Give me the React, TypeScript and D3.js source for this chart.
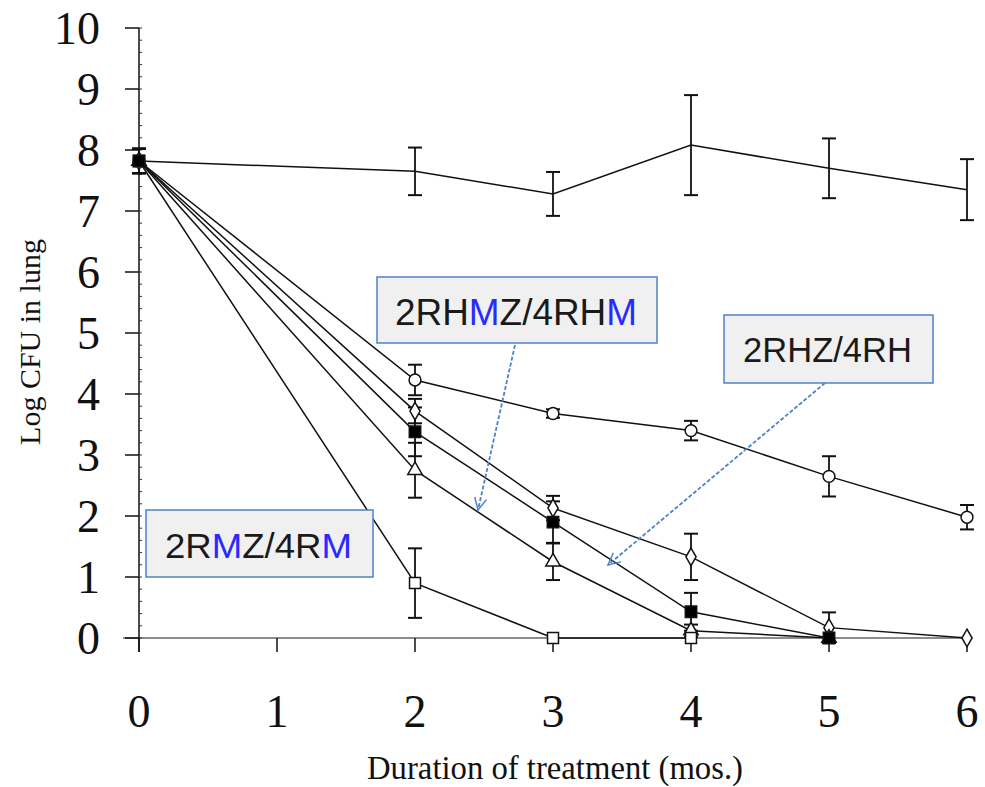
import React from "react";
import * as d3 from "d3";

const months = [0, 1, 2, 3, 4, 5, 6];
const yTicks = [0, 1, 2, 3, 4, 5, 6, 7, 8, 9, 10];

const controlX = [0, 2, 3, 4, 5, 6];
const controlMean = [7.82, 7.65, 7.28, 8.08, 7.7, 7.35];
const controlSd = [0.2, 0.39, 0.36, 0.82, 0.49, 0.5];

const circX = [0, 2, 3, 4, 5, 6];
const circMean = [7.82, 4.23, 3.68, 3.4, 2.65, 1.98];
const circSd = [0.2, 0.25, 0.07, 0.16, 0.33, 0.2];

const diamX = [0, 2, 3, 4, 5, 6];
const diamMean = [7.82, 3.72, 2.13, 1.33, 0.17, 0];
const diamSd = [0.2, 0.2, 0.2, 0.38, 0.25, 0];

const fsqX = [0, 2, 3, 4, 5];
const fsqMean = [7.82, 3.38, 1.9, 0.43, 0];
const fsqSd = [0.2, 0.4, 0.34, 0.31, 0];

const triX = [0, 2, 3, 4, 5];
const triMean = [7.82, 2.75, 1.25, 0.12, 0];
const triSd = [0.2, 0.45, 0.3, 0.1, 0];

const osqX = [0, 2, 3, 4];
const osqMean = [7.82, 0.9, 0, 0];
const osqSd = [0.2, 0.57, 0, 0];

type Series = { x: number[]; m: number[]; s: number[]; sym: any; fill: string; size: number; draw: boolean };

const series: Series[] = [
  { x: controlX, m: controlMean, s: controlSd, sym: d3.symbolSquare, fill: "none", size: 0, draw: false },
  { x: circX, m: circMean, s: circSd, sym: d3.symbolCircle, fill: "white", size: 110, draw: true },
  { x: diamX, m: diamMean, s: diamSd, sym: d3.symbolDiamond, fill: "white", size: 90, draw: true },
  { x: triX, m: triMean, s: triSd, sym: d3.symbolTriangle, fill: "white", size: 90, draw: true },
  { x: osqX, m: osqMean, s: osqSd, sym: d3.symbolSquare, fill: "white", size: 120, draw: true },
  { x: fsqX, m: fsqMean, s: fsqSd, sym: d3.symbolSquare, fill: "black", size: 130, draw: true },
];

export default function App() {
  const xS = d3.scaleLinear().domain([0, 6]).range([139, 967]);
  const yS = d3.scaleLinear().domain([0, 10]).range([638, 28]);
  const line = d3.line<[number, number]>().x((d) => xS(d[0])).y((d) => yS(d[1]));
  const minor = d3.range(0, 10.001, 0.2);
  const blue = "#4f81c9";
  const mBlue = "#2a2aff";
  const txtCol = "#1a1a1a";
  const sans = "'Liberation Sans', Arial, sans-serif";
  const serif = "'Liberation Serif', 'Times New Roman', serif";

  return (
    <svg width={985} height={787} style={{ position: "absolute", left: 0, top: 0, background: "white" }}>
      <defs>
        <marker id="arr" markerUnits="userSpaceOnUse" markerWidth={16} markerHeight={16} refX={14} refY={8} orient="auto">
          <path d="M2,2 L14,8 L2,14" fill="none" stroke={blue} strokeWidth={1.5} />
        </marker>
      </defs>
      {/* x axis */}
      <line x1={123} x2={967} y1={yS(0)} y2={yS(0)} stroke="#666" strokeWidth={1.5} />
      {months.map((m) => (
        <g key={"xt" + m}>
          <line x1={xS(m)} x2={xS(m)} y1={yS(0)} y2={yS(0) + 14} stroke="#111" strokeWidth={1.5} />
          <text x={xS(m)} y={727} textAnchor="middle" fontFamily={serif} fontSize={46} fill="#111">
            {m}
          </text>
        </g>
      ))}
      {/* y axis */}
      <line x1={xS(0)} x2={xS(0)} y1={yS(10)} y2={yS(0) + 14} stroke="#111" strokeWidth={1.5} />
      {minor.map((v, i) => (
        <line key={"mn" + i} x1={xS(0)} x2={xS(0) + 3} y1={yS(v)} y2={yS(v)} stroke="#333" strokeWidth={1} />
      ))}
      {yTicks.map((t) => (
        <g key={"yt" + t}>
          <line x1={125} x2={xS(0)} y1={yS(t)} y2={yS(t)} stroke="#111" strokeWidth={1.5} />
          <text x={100} y={yS(t) + 16} textAnchor="end" fontFamily={serif} fontSize={46} fill="#111">
            {t}
          </text>
        </g>
      ))}
      <text
        transform={`translate(40,342) rotate(-90)`}
        textAnchor="middle"
        fontFamily={serif}
        fontSize={30}
        fill="#111"
      >
        Log CFU in lung
      </text>
      <text x={555} y={779} textAnchor="middle" fontFamily={serif} fontSize={34} textLength={376} lengthAdjust="spacingAndGlyphs" fill="#111">
        Duration of treatment (mos.)
      </text>
      {/* series lines */}
      {series.map((s, si) => (
        <path
          key={"ln" + si}
          d={line(s.x.map((x, i) => [x, s.m[i]] as [number, number])) || ""}
          fill="none"
          stroke="#111"
          strokeWidth={1.5}
        />
      ))}
      {/* error bars */}
      {series.map((s, si) =>
        s.x.map((x, i) =>
          s.s[i] > 0 ? (
            <g key={"eb" + si + "-" + i} stroke="#111">
              <line x1={xS(x)} x2={xS(x)} y1={yS(s.m[i] + s.s[i])} y2={yS(s.m[i] - s.s[i])} strokeWidth={1.8} />
              <line x1={xS(x) - 7} x2={xS(x) + 7} y1={yS(s.m[i] + s.s[i])} y2={yS(s.m[i] + s.s[i])} strokeWidth={2} />
              <line x1={xS(x) - 7} x2={xS(x) + 7} y1={yS(s.m[i] - s.s[i])} y2={yS(s.m[i] - s.s[i])} strokeWidth={2} />
            </g>
          ) : null
        )
      )}
      {/* markers */}
      {series.map((s, si) =>
        s.draw
          ? s.x.map((x, i) => (
              <path
                key={"mk" + si + "-" + i}
                transform={`translate(${xS(x)},${yS(s.m[i])})`}
                d={d3.symbol().type(s.sym).size(s.size)() || ""}
                fill={s.fill}
                stroke="#111"
                strokeWidth={1.5}
              />
            ))
          : null
      )}
      {/* annotation arrows */}
      <line x1={515} y1={345} x2={478} y2={510} stroke={blue} strokeWidth={1.8} strokeDasharray="4 2" markerEnd="url(#arr)" />
      <line x1={825} y1={383} x2={608} y2={565} stroke={blue} strokeWidth={1.8} strokeDasharray="4 2" markerEnd="url(#arr)" />
      {/* annotation boxes */}
      <rect x={377} y={277} width={280} height={66} fill="#f0f0f0" stroke={blue} strokeWidth={1.5} />
      <text x={395} y={325} fontFamily={sans} fontSize={36} textLength={242} lengthAdjust="spacingAndGlyphs" fill={txtCol}>
        2RH<tspan fill={mBlue}>M</tspan>Z/4RH<tspan fill={mBlue}>M</tspan>
      </text>
      <rect x={724} y={315} width={209} height={68} fill="#f0f0f0" stroke={blue} strokeWidth={1.5} />
      <text x={743} y={362} fontFamily={sans} fontSize={35} textLength={169} lengthAdjust="spacingAndGlyphs" fill={txtCol}>
        2RHZ/4RH
      </text>
      <rect x={146} y={510} width={227} height={67} fill="#f0f0f0" stroke={blue} strokeWidth={1.5} />
      <text x={165} y={558} fontFamily={sans} fontSize={35} textLength={187} lengthAdjust="spacingAndGlyphs" fill={txtCol}>
        2R<tspan fill={mBlue}>M</tspan>Z/4R<tspan fill={mBlue}>M</tspan>
      </text>
    </svg>
  );
}
